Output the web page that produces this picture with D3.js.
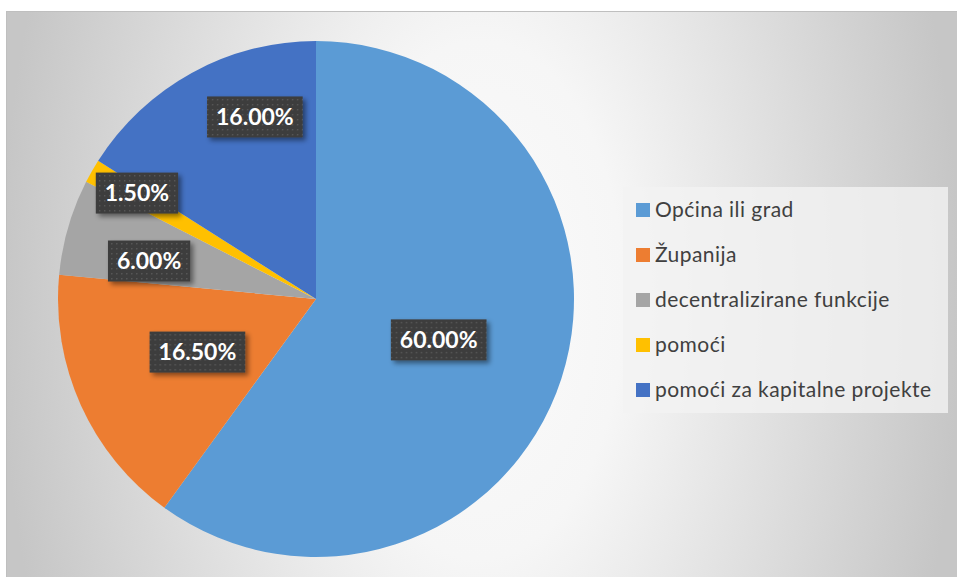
<!DOCTYPE html>
<html>
<head>
<meta charset="utf-8">
<script src="https://cdn.jsdelivr.net/npm/d3@7"></script>
<style>
  body { margin: 0; background: #fff; }
  svg { display: block; }
</style>
</head>
<body>
<svg id="chart" width="957" height="577"></svg>
<script>
// data
var categories = ["Općina ili grad", "Županija", "decentralizirane funkcije", "pomoći", "pomoći za kapitalne projekte"];
var values = [60.0, 16.5, 6.0, 1.5, 16.0];
var colors = ["#5B9BD5", "#ED7D31", "#A5A5A5", "#FFC000", "#4472C4"];

// label moves done by hand in the original (px, from the slice centroid)
var labelNudge = [[0, 1], [-1, 0], [-43, -2], [-67, -42], [1, -69]];

var W = 957, H = 577;
var cx = 316, cy = 299, R = 258;

var svg = d3.select("#chart");
var defs = svg.append("defs");

// background: white in the middle, grey to the sides
var bg = defs.append("radialGradient")
  .attr("id", "bgGrad")
  .attr("gradientUnits", "userSpaceOnUse")
  .attr("cx", 480).attr("cy", 300).attr("r", 480)
  .attr("gradientTransform", "translate(480,300) scale(1,1.8) translate(-480,-300)");
bg.append("stop").attr("offset", 0).attr("stop-color", "#fbfbfb");
bg.append("stop").attr("offset", 0.3).attr("stop-color", "#f6f6f6");
bg.append("stop").attr("offset", 1).attr("stop-color", "#c6c6c6");

// dotted dark fill of the data labels
var pat = defs.append("pattern")
  .attr("id", "dots")
  .attr("patternUnits", "userSpaceOnUse")
  .attr("width", 5).attr("height", 5);
pat.append("rect").attr("width", 5).attr("height", 5).attr("fill", "#3d3d3d");
pat.append("rect").attr("x", 2).attr("y", 2).attr("width", 1.4).attr("height", 1.4).attr("fill", "#5a5a5a");

var shadow = defs.append("filter").attr("id", "shadow")
  .attr("x", "-20%").attr("y", "-30%").attr("width", "150%").attr("height", "180%");
shadow.append("feDropShadow")
  .attr("dx", 3).attr("dy", 3).attr("stdDeviation", 2.5)
  .attr("flood-color", "#000").attr("flood-opacity", 0.45);

svg.append("rect")
  .attr("x", 6.5).attr("y", 11.5)
  .attr("width", 955).attr("height", 575)
  .attr("fill", "url(#bgGrad)")
  .attr("stroke", "#bfbfbf");

var pie = d3.pie().sort(null).value(function(d) { return d; });
var arcs = pie(values);
var arc = d3.arc().innerRadius(0).outerRadius(R);
var labelArc = d3.arc().innerRadius(R * 0.5).outerRadius(R * 0.5);

var g = svg.append("g").attr("transform", "translate(" + cx + "," + cy + ")");

g.selectAll("path.slice")
  .data(arcs)
  .enter()
  .append("path")
    .attr("class", "slice")
    .attr("d", arc)
    .attr("fill", function(d, i) { return colors[i]; });

// data labels
var labels = g.selectAll("g.lbl")
  .data(arcs)
  .enter()
  .append("g")
    .attr("class", "lbl")
    .attr("transform", function(d, i) {
      var c = labelArc.centroid(d);
      return "translate(" + (c[0] + labelNudge[i][0]) + "," + (c[1] + labelNudge[i][1]) + ")";
    });

var boxes = labels.append("rect")
  .attr("fill", "url(#dots)")
  .attr("filter", "url(#shadow)");

var texts = labels.append("text")
  .attr("text-anchor", "middle")
  .attr("dy", "0.36em")
  .style("font-family", "Lato, 'Open Sans', sans-serif")
  .style("font-weight", "bold")
  .style("font-size", "23px")
  .attr("fill", "#ffffff")
  .text(function(d) { return d3.format(".2f")(d.value) + "%"; });

texts.each(function(d, i) {
  var w = this.getComputedTextLength() + 18;
  d3.select(boxes.nodes()[i])
    .attr("x", -w / 2).attr("y", -20.5)
    .attr("width", w).attr("height", 41);
});

// legend
var lx = 623, ly = 187;
svg.append("rect")
  .attr("x", lx).attr("y", ly)
  .attr("width", 325).attr("height", 226)
  .attr("fill", "#f2f2f2")
  .attr("fill-opacity", 0.8);

var leg = svg.selectAll("g.leg")
  .data(categories)
  .enter()
  .append("g")
    .attr("class", "leg")
    .attr("transform", function(d, i) { return "translate(636," + (210 + i * 45) + ")"; });

leg.append("rect")
  .attr("x", 0).attr("y", -7)
  .attr("width", 14).attr("height", 14)
  .attr("fill", function(d, i) { return colors[i]; });

leg.append("text")
  .attr("x", 19)
  .attr("dy", "0.35em")
  .style("font-family", "Lato, 'Open Sans', sans-serif")
  .style("font-size", "21px")
  .style("letter-spacing", "0.45px")
  .attr("fill", "#404040")
  .text(function(d) { return d; });
</script>
</body>
</html>
